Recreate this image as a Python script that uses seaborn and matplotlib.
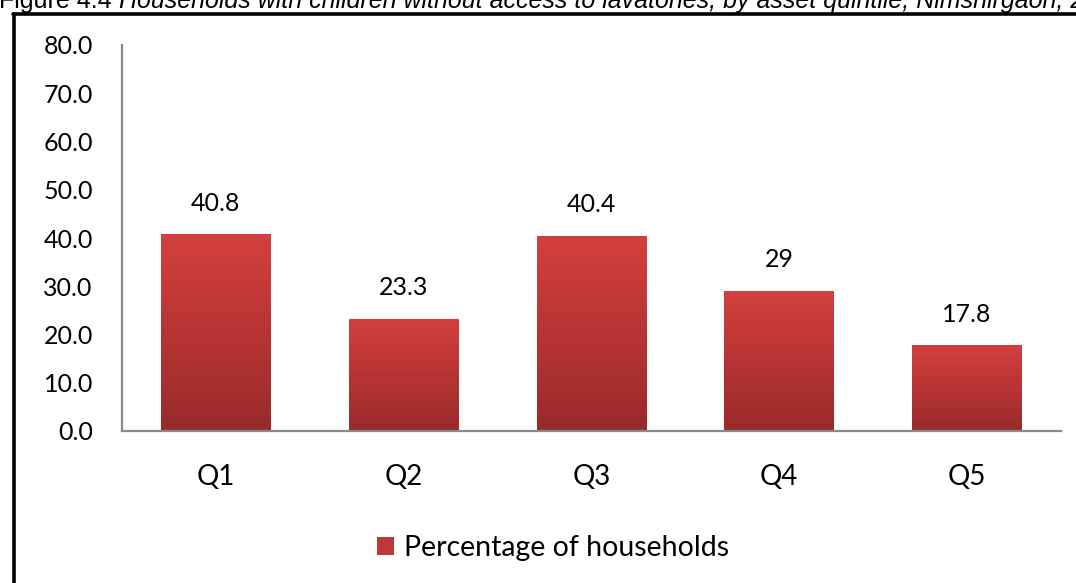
import numpy as np
import pandas as pd
import matplotlib
matplotlib.use("Agg")
import matplotlib.pyplot as plt
from matplotlib.colors import LinearSegmentedColormap
from matplotlib.patches import Patch
import seaborn as sns

# Data
quintiles = ["Q1", "Q2", "Q3", "Q4", "Q5"]
percent_households = [40.8, 23.3, 40.4, 29, 17.8]
value_labels = ["40.8", "23.3", "40.4", "29", "17.8"]
y_ticks = [0, 10, 20, 30, 40, 50, 60, 70, 80]
series_name = "Percentage of households"
title_lead = "Figure 4.4 "
title_rest = ("Households with children without access to lavatories, "
              "by asset quintile, Nimshirgaon, 2008")

sns.set_theme(style="white")
plt.rcParams["font.family"] = ["Lato", "DejaVu Sans"]
plt.rcParams["text.color"] = "black"

W, H = 1076, 583
fig = plt.figure(figsize=(W / 100, H / 100), dpi=100)
fig.patch.set_facecolor("white")

# Plot area in pixel coordinates
left, right, top, bottom = 122, 1061, 45, 431
ax = fig.add_axes([left / W, 1 - bottom / H, (right - left) / W, (bottom - top) / H])
ax.set_facecolor("white")

df = pd.DataFrame({"quintile": quintiles, "value": percent_households})
sns.barplot(data=df, x="quintile", y="value", color="#C03A3A", width=0.585,
            saturation=1, ax=ax)

ax.set_xlim(-0.5, len(quintiles) - 0.5)
ax.set_ylim(0, 80)
ax.set_yticks(y_ticks)
ax.set_yticklabels([f"{t:.1f}" for t in y_ticks], fontsize=18)
ax.tick_params(axis="y", length=0, pad=21, colors="black")
ax.tick_params(axis="x", length=0, pad=24, labelsize=20, colors="black")
ax.set_xlabel("")
ax.set_ylabel("")

for side in ["top", "right"]:
    ax.spines[side].set_visible(False)
for side in ["left", "bottom"]:
    ax.spines[side].set_color("#8A8A8A")
    ax.spines[side].set_linewidth(1.6)

# Vertical red gradient inside each bar
cmap = LinearSegmentedColormap.from_list("barred", ["#982A2A", "#B83434", "#D2403E"])
grad = np.linspace(0, 1, 256).reshape(-1, 1)
for bar, label in zip(ax.patches, value_labels):
    x0, y0 = bar.get_x(), bar.get_y()
    w, h = bar.get_width(), bar.get_height()
    im = ax.imshow(grad, cmap=cmap, aspect="auto", origin="lower",
                   extent=(x0, x0 + w, y0, y0 + h), zorder=bar.get_zorder() + 0.1)
    im.set_clip_path(bar)
    ax.annotate(label, (x0 + w / 2, y0 + h), xytext=(0, 17),
                textcoords="offset points", ha="center", va="baseline",
                fontsize=18, color="black")
ax.set_xlim(-0.5, len(quintiles) - 0.5)
ax.set_ylim(0, 80)

# Legend below the plot
handle = Patch(facecolor="#BE3838", edgecolor="none")
leg = fig.legend([handle], [series_name], loc="center", bbox_to_anchor=(553 / W, 1 - 548 / H),
                 frameon=False, fontsize=20.5, handlelength=0.62, handleheight=0.62,
                 handletextpad=0.35, borderaxespad=0)
for t in leg.get_texts():
    t.set_color("black")

# Black frame around the figure content
fig.add_artist(plt.Line2D([14 / W, 14 / W], [0, 1 - 14 / H], color="black",
                          linewidth=2.6, transform=fig.transFigure))
fig.add_artist(plt.Line2D([13 / W, 1], [1 - 14 / H, 1 - 14 / H], color="black",
                          linewidth=2.6, transform=fig.transFigure))

# Caption at the very top, partly cut by the upper edge
lead = fig.text(-1 / W, 1 - 8 / H, title_lead, fontsize=18, va="baseline", ha="left",
                family=["Liberation Sans", "DejaVu Sans"])
fig.canvas.draw()
bb = lead.get_window_extent(renderer=fig.canvas.get_renderer())
fig.text(bb.x1 / W, 1 - 8 / H, title_rest, fontsize=18, va="baseline", ha="left",
         style="italic", family=["Liberation Sans", "DejaVu Sans"])

fig.savefig("out.png", dpi=100)
